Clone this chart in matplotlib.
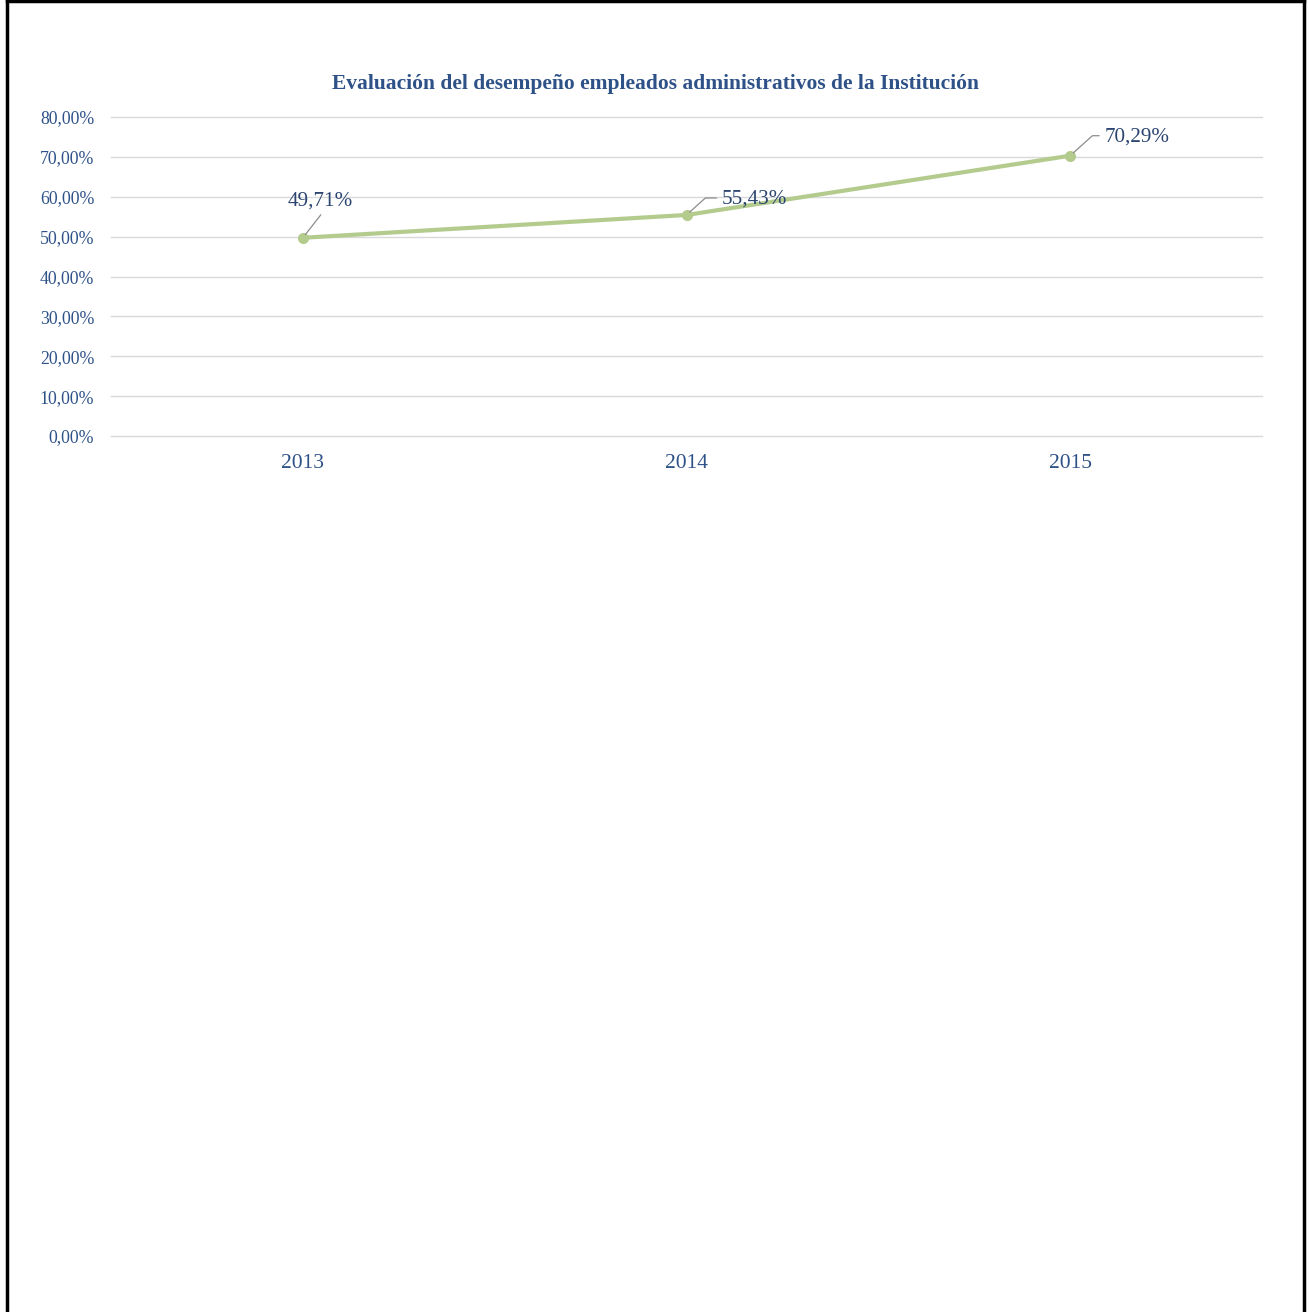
import matplotlib
matplotlib.use("Agg")
import matplotlib.pyplot as plt
from matplotlib.ticker import FuncFormatter
from matplotlib.lines import Line2D

years = ["2013", "2014", "2015"]
values = [49.71, 55.43, 70.29]
yticks = [0, 10, 20, 30, 40, 50, 60, 70, 80]
title = "Evaluación del desempeño empleados administrativos de la Institución"

plt.rcParams['font.family'] = ['Liberation Serif', 'DejaVu Serif']
blue = "#2E5288"
green = "#B4CB8E"

fig = plt.figure(figsize=(13.09, 13.12), dpi=100)
W, H = 1309, 1312
ax = fig.add_axes([111 / W, 1 - 436 / H, (1262 - 111) / W, (436 - 117) / H])

x = list(range(len(years)))
ax.plot(x, values, color=green, lw=3, marker='o', ms=7, mfc=green, mec=green, zorder=3)

ax.set_xlim(-0.5, len(years) - 0.5)
ax.set_ylim(0, 80)
ax.set_yticks(yticks)
ax.yaxis.set_major_formatter(FuncFormatter(lambda v, p: f"{v:.2f}%".replace(".", ",")))
ax.set_xticks(x)
ax.set_xticklabels(years)
ax.grid(axis='y', color='#D9D9D9', lw=1)
for gl in ax.get_ygridlines():
    gl.set_clip_on(False)
ax.set_axisbelow(True)
for s in ax.spines.values():
    s.set_visible(False)
ax.tick_params(axis='both', length=0)
ax.tick_params(axis='y', labelsize=12.8, labelcolor=blue, pad=12)
ax.tick_params(axis='x', labelsize=15.5, labelcolor=blue, pad=13)

fig.text(655 / W, 1 - 84.5 / H, title, ha='center', va='center', fontsize=15.5,
         fontweight='bold', color=blue)

# data labels with leader lines
label_offsets = [(17, 37, 'center'), (35, 16, 'left'), (34, 19, 'left')]
for xi, v, (dx, dy, ha) in zip(x, values, label_offsets):
    txt = f"{v:.2f}%".replace(".", ",")
    ax.annotate(txt, (xi, v), xytext=(dx, dy), textcoords='offset pixels',
                ha=ha, va='center', fontsize=15.2, color='#2B4570', zorder=4)
    if ha == 'center':
        ax.annotate("", (xi, v), xytext=(18, 23), textcoords='offset pixels',
                    arrowprops=dict(arrowstyle='-', color='#8C8C8C', lw=0.9,
                                    shrinkA=0, shrinkB=3))
    else:
        ax.annotate("", (xi, v), xytext=(dx - 5, dy + 1), textcoords='offset pixels',
                    arrowprops=dict(arrowstyle='-', color='#8C8C8C', lw=0.9,
                                    shrinkA=0, shrinkB=3,
                                    connectionstyle="angle,angleA=0,angleB=42,rad=0"))

# page border (left, top, right)
lw = 2.5
fig.add_artist(Line2D([7 / W, 7 / W], [0, 1], color='black', lw=lw, transform=fig.transFigure))
fig.add_artist(Line2D([7 / W, 1304 / W], [1 - 1 / H, 1 - 1 / H], color='black', lw=lw, transform=fig.transFigure))
fig.add_artist(Line2D([1304 / W, 1304 / W], [0, 1], color='black', lw=lw, transform=fig.transFigure))

fig.savefig("out.png", dpi=100, facecolor='white')
